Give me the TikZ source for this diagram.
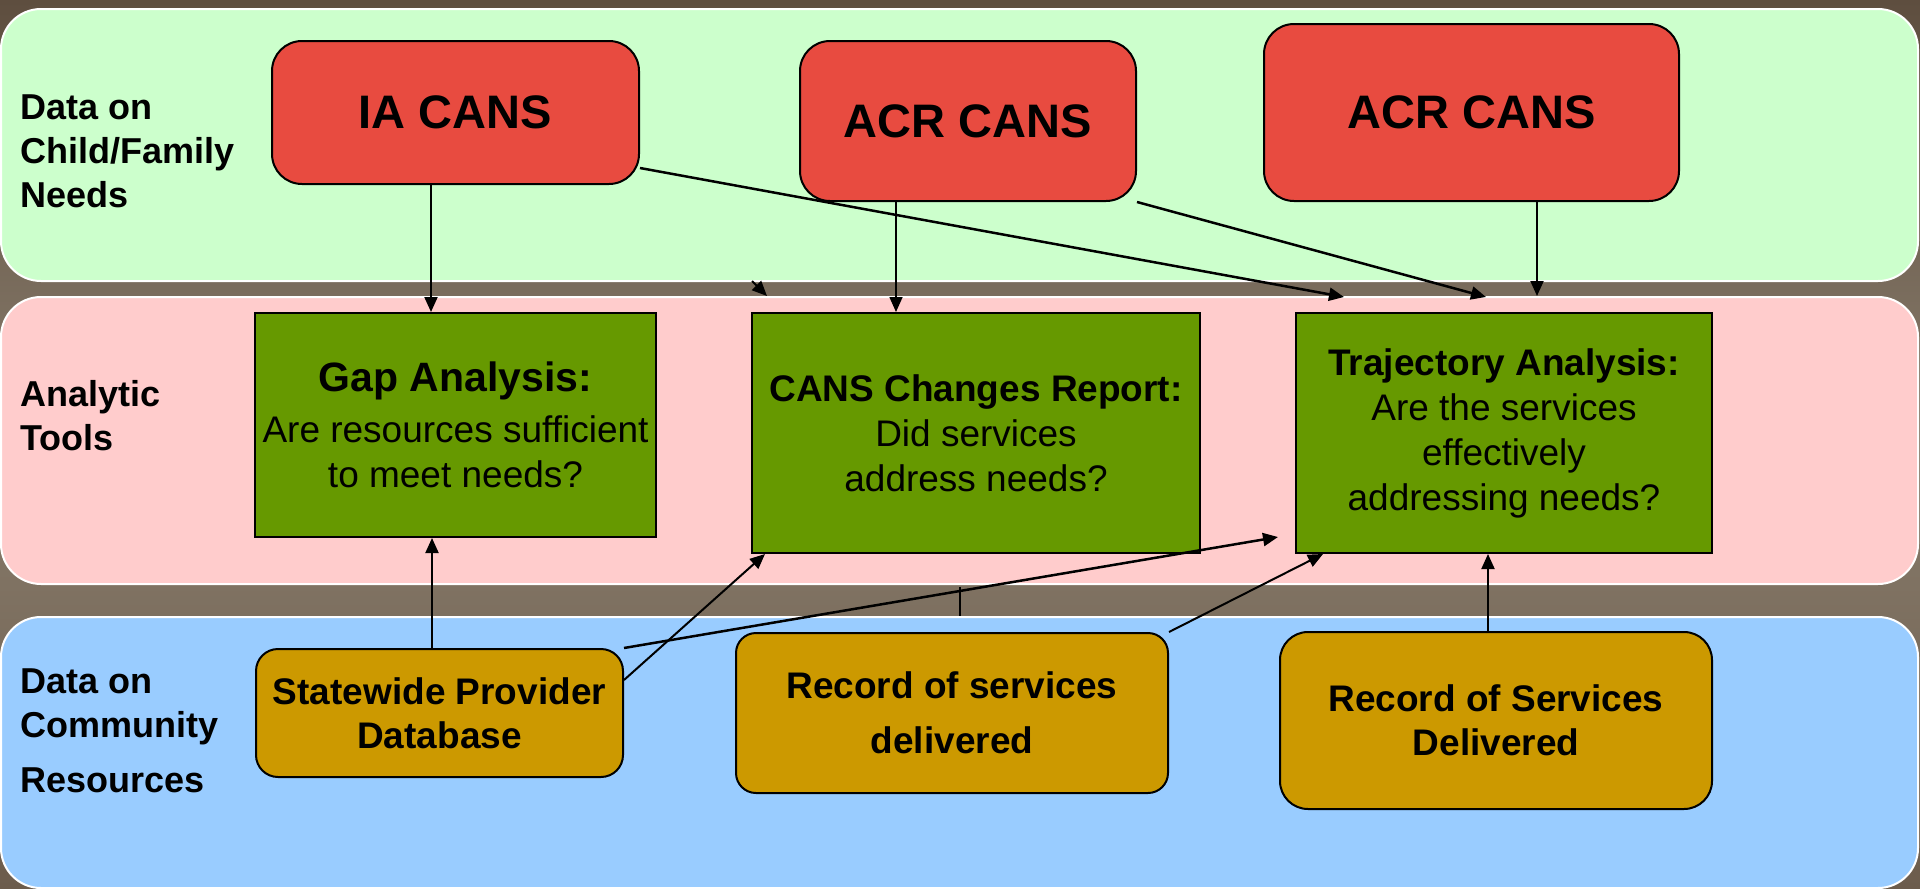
\documentclass[tikz,border=0pt]{standalone}
\usepackage{fontspec}
\setmainfont{Liberation Sans}
\usetikzlibrary{arrows.meta}
\definecolor{bgtop}{HTML}{5E4E3F}
\definecolor{bgmid}{HTML}{887C6C}
\definecolor{bgbot}{HTML}{6C5C4C}
\definecolor{bandgreen}{HTML}{CCFFCC}
\definecolor{bandpink}{HTML}{FFCCCC}
\definecolor{bandblue}{HTML}{99CCFF}
\definecolor{cansred}{HTML}{E84B40}
\definecolor{toolgreen}{HTML}{669900}
\definecolor{resgold}{HTML}{CC9900}
\tikzset{
  band/.style={draw=white, line width=2pt, rounded corners=40pt},
  bandlabel/.style={anchor=west, align=left, inner sep=0pt, font=\fontsize{36}{44}\selectfont\bfseries},
  redbox/.style={draw=black, line width=2pt, fill=cansred, rounded corners=30pt, inner sep=0pt, align=center, font=\fontsize{47}{56}\selectfont\bfseries},
  toolbox/.style={draw=black, line width=2pt, fill=toolgreen, inner sep=0pt, align=center, font=\fontsize{37}{45}\selectfont},
  resbox/.style={draw=black, line width=2pt, fill=resgold, inner sep=0pt, align=center, font=\fontsize{37}{44}\selectfont\bfseries},
  arr/.style={draw=black, line width=2pt, -{Triangle[length=15pt,width=13pt]}},
  plain/.style={draw=black, line width=2pt},
}
\begin{document}
\begin{tikzpicture}[x=1pt,y=-1pt]
\useasboundingbox (0,0) rectangle (1920,889);
\fill[top color=bgtop, bottom color=bgbot, middle color=bgmid] (0,0) rectangle (1920,889);
% bands
\filldraw[band, fill=bandgreen] (1,9) rectangle (1918,281);
\filldraw[band, fill=bandpink] (1,297) rectangle (1918,584);
\filldraw[band, fill=bandblue] (1,617) rectangle (1918,888);
% band labels
\node[bandlabel] (lab1) at (20,151) {Data on\\Child/Family\\Needs};
\node[bandlabel] (lab2) at (20,416) {Analytic\\Tools};
\node[bandlabel] (lab3) at (20,731) {Data on\\Community\\[11pt]Resources};
% CANS boxes
\node[redbox, minimum width=367pt, minimum height=143pt] (ia) at (455.5,112.5) {IA CANS};
\node[redbox, minimum width=336pt, minimum height=160pt] (acr1) at (968,121) {ACR CANS};
\node[redbox, minimum width=415pt, minimum height=177pt] (acr2) at (1471.5,112.5) {ACR CANS};
% analytic tools
\node[toolbox, minimum width=401pt, minimum height=224pt] (gap) at (455.5,425)
  {{\fontsize{41}{47}\selectfont\bfseries Gap Analysis:}\\[6pt]Are resources sufficient\\to meet needs?};
\node[toolbox, minimum width=448pt, minimum height=240pt] (cans) at (976,433)
  {{\bfseries CANS Changes Report:}\\Did services\\address needs?};
\node[toolbox, minimum width=416pt, minimum height=240pt] (traj) at (1504,433)
  {{\bfseries Trajectory Analysis:}\\Are the services\\effectively\\addressing needs?};
% resources
\node[resbox, rounded corners=22pt, minimum width=367pt, minimum height=128pt] (sw) at (439.5,713)
  {Statewide Provider\\Database};
\node[resbox, rounded corners=20pt, minimum width=432pt, minimum height=160pt] (rec1) at (952,713)
  {Record of services\\[11pt]delivered};
\node[resbox, rounded corners=28pt, minimum width=432pt, minimum height=177pt] (rec2) at (1496,720.5)
  {Record of Services\\Delivered};
% free ends
\coordinate (t1) at (1344,297);
\coordinate (t2) at (1486,297);
\coordinate (t3) at (1537,296);
\coordinate (t4) at (1278,537);
\coordinate (s1) at (752,281);
\coordinate (s2) at (767,296);
\coordinate (k1) at (960,587);
\coordinate (k2) at (960,616);
% connectors
\draw[arr] ([xshift=-24.5pt]ia.south) -- ([xshift=-24.5pt]gap.north);
\draw[arr, line width=2.5pt] ([yshift=-55.5pt]ia.east) -- (t1);
\draw[arr, line width=1.6pt] ([xshift=-72pt]acr1.south) -- ([xshift=-80pt]cans.north);
\draw[arr, line width=2.5pt] (acr1.south east) -- (t2);
\draw[arr] ([xshift=65.5pt]acr2.south) -- (t3);
\draw[arr] (s1) -- (s2);
\draw[arr] ([xshift=-7.5pt]sw.north) -- ([xshift=-23.5pt]gap.south);
\draw[arr] ([yshift=33pt]sw.east) -- ([xshift=14pt]cans.south west);
\draw[arr, line width=2.5pt] (sw.north east) -- (t4);
\draw[arr] (rec1.north east) -- ([xshift=28pt]traj.south west);
\draw[arr] ([xshift=-8pt]rec2.north) -- ([xshift=-16pt]traj.south);
\draw[plain] (k1) -- (k2);
\end{tikzpicture}
\end{document}
